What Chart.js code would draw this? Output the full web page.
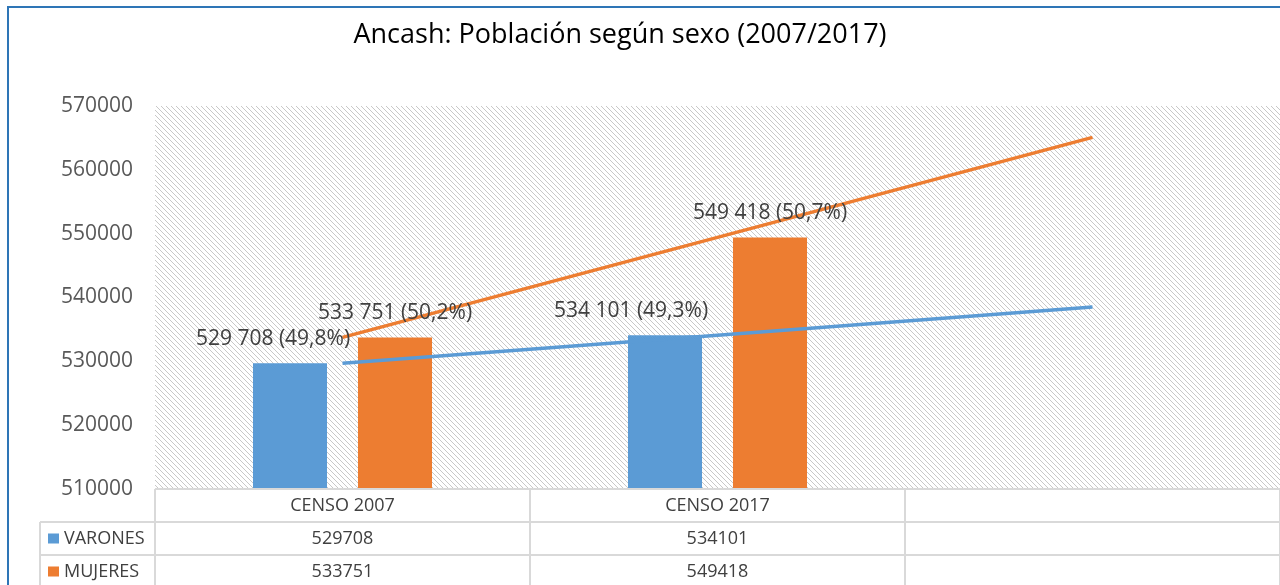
<!DOCTYPE html>
<html>
<head>
<meta charset="utf-8">
<script src="https://cdn.jsdelivr.net/npm/chart.js@4.4.1/dist/chart.umd.min.js"></script>
<style>
  html, body { margin: 0; padding: 0; background: #fff; }
  #wrap { width: 1280px; height: 585px; }
</style>
</head>
<body>
<div id="wrap"><canvas id="chart" width="1280" height="585"></canvas></div>
<script>
// Data
var categories = ['CENSO 2007', 'CENSO 2017', ''];
var varones = [529708, 534101];
var mujeres = [533751, 549418];
var seriesNames = ['VARONES', 'MUJERES'];
var yTicks = [510000, 520000, 530000, 540000, 550000, 560000, 570000];
var titleText = 'Ancash: Población según sexo (2007/2017)';

var blue = '#5b9bd5';
var orange = '#ed7d31';
var textGray = '#404040';
var lineGray = '#d9d9d9';

// linear trend (Excel trendline) over the category index, extended to 3 categories
function trend(values, n) {
	var k = values.length, sx = 0, sy = 0, sxy = 0, sxx = 0;
	values.forEach(function(v, i) {
		sx += i; sy += v; sxy += i * v; sxx += i * i;
	});
	var b = (k * sxy - sx * sy) / (k * sxx - sx * sx);
	var a = (sy - b * sx) / k;
	var out = [];
	for (var i = 0; i < n; i++) out.push(a + b * i);
	return out;
}

function fmtSpace(v) {
	return String(v).replace(/\B(?=(\d{3})+(?!\d))/g, ' ');
}

// hatch fill of the plot area
var tile = document.createElement('canvas');
tile.width = 5; tile.height = 5;
var tc = tile.getContext('2d');
tc.fillStyle = '#ffffff';
tc.fillRect(0, 0, 5, 5);
tc.fillStyle = '#c8c8c8';
for (var i = 0; i < 5; i++) {
	tc.fillRect(i, i, 1, 1);
}

var hatchPlugin = {
	id: 'hatch',
	beforeDatasetsDraw: function(chart) {
		var ctx = chart.ctx, a = chart.chartArea;
		ctx.save();
		ctx.fillStyle = ctx.createPattern(tile, 'repeat');
		ctx.fillRect(a.left, a.top, a.right - a.left, a.bottom - a.top);
		ctx.restore();
	}
};

var frameAndTable = {
	id: 'frameTable',
	afterDraw: function(chart) {
		var ctx = chart.ctx, a = chart.chartArea, x = chart.scales.x;
		var catW = (a.right - a.left) / categories.length;
		var rowH = 33;
		var top = a.bottom;
		ctx.save();
		// outer frame
		ctx.strokeStyle = '#2e75b6';
		ctx.lineWidth = 2;
		ctx.beginPath();
		ctx.moveTo(8, 600);
		ctx.lineTo(8, 7);
		ctx.lineTo(1290, 7);
		ctx.stroke();

		// title
		ctx.fillStyle = '#000000';
		ctx.font = '27px "Open Sans"';
		ctx.textAlign = 'center';
		ctx.textBaseline = 'middle';
		ctx.fillText(titleText, 620, 35);

		ctx.strokeStyle = lineGray;
		ctx.lineWidth = 2;
		ctx.beginPath();
		// horizontal lines
		ctx.moveTo(a.left, top); ctx.lineTo(a.right, top);
		ctx.moveTo(40, top + rowH); ctx.lineTo(a.right, top + rowH);
		ctx.moveTo(40, top + 2 * rowH); ctx.lineTo(a.right, top + 2 * rowH);
		// vertical lines
		ctx.moveTo(40, top + rowH); ctx.lineTo(40, 600);
		for (var c = 0; c <= categories.length; c++) {
			var xx = a.left + c * catW;
			ctx.moveTo(xx, top); ctx.lineTo(xx, 600);
		}
		ctx.stroke();

		ctx.fillStyle = textGray;
		ctx.font = '18px "Open Sans"';
		ctx.textAlign = 'center';
		ctx.textBaseline = 'middle';
		var rows = [varones, mujeres];
		categories.forEach(function(cat, i) {
			var cx = x.getPixelForValue(i);
			ctx.fillText(cat, cx, top + rowH / 2);
			rows.forEach(function(r, j) {
				if (r[i] !== undefined) ctx.fillText(String(r[i]), cx, top + rowH * (j + 1.5));
			});
		});
		ctx.textAlign = 'left';
		[blue, orange].forEach(function(col, j) {
			var cy = top + rowH * (j + 1.5);
			ctx.fillStyle = col;
			ctx.fillRect(48, cy - 5, 11, 10);
			ctx.fillStyle = textGray;
			ctx.fillText(seriesNames[j], 64, cy);
		});
		ctx.restore();
	}
};

var barLabels = {
	id: 'barLabels',
	afterDatasetsDraw: function(chart, args, opts) {
		var ctx = chart.ctx;
		ctx.save();
		ctx.font = '21px "Open Sans"';
		ctx.fillStyle = textGray;
		ctx.textAlign = 'center';
		ctx.textBaseline = 'middle';
		[0, 1].forEach(function(d) {
			var meta = chart.getDatasetMeta(d);
			meta.data.forEach(function(bar, i) {
				var v = chart.data.datasets[d].data[i];
				if (v == null) return;
				var pct = v / (varones[i] + mujeres[i]) * 100;
				var txt = fmtSpace(v) + ' (' + pct.toFixed(1).replace('.', ',') + '%)';
				var shift = opts.shift[d][i] || 0;
				ctx.fillText(txt, bar.x + shift, bar.y - 24);
			});
		});
		ctx.restore();
	}
};

var ctx = document.getElementById('chart').getContext('2d');
var chart = new Chart(ctx, {
	type: 'bar',
	data: {
		labels: categories,
		datasets: [{
			label: seriesNames[0],
			data: varones.concat([null]),
			backgroundColor: blue,
			categoryPercentage: 0.56,
			barPercentage: 0.705,
			order: 2
		}, {
			label: seriesNames[1],
			data: mujeres.concat([null]),
			backgroundColor: orange,
			categoryPercentage: 0.56,
			barPercentage: 0.705,
			order: 2
		}, {
			type: 'line',
			label: 'Lineal (VARONES)',
			data: trend(varones, 3),
			borderColor: blue,
			borderWidth: 3.5,
			pointRadius: 0,
			fill: false,
			order: 1
		}, {
			type: 'line',
			label: 'Lineal (MUJERES)',
			data: trend(mujeres, 3),
			borderColor: orange,
			borderWidth: 3.5,
			pointRadius: 0,
			fill: false,
			order: 1
		}]
	},
	options: {
		responsive: false,
		animation: false,
		layout: { padding: { left: 0, right: 0, top: 106, bottom: 96 } },
		plugins: {
			legend: { display: false },
			tooltip: { enabled: false },
			title: { display: false },
			barLabels: { shift: [[-17, -34], [0, 0]] }
		},
		scales: {
			x: {
				display: false,
				offset: true
			},
			y: {
				min: 510000,
				max: 570000,
				afterBuildTicks: function(scale) {
					scale.ticks = yTicks.map(function(v) { return { value: v }; });
				},
				afterFit: function(scale) { scale.width = 155; },
				border: { display: false },
				grid: { display: false, drawTicks: false },
				ticks: {
					color: '#595959',
					padding: 22,
					font: { family: 'Open Sans', size: 21 },
					callback: function(v) { return String(v); }
				}
			}
		}
	},
	plugins: [hatchPlugin, barLabels, frameAndTable]
});
</script>
</body>
</html>
